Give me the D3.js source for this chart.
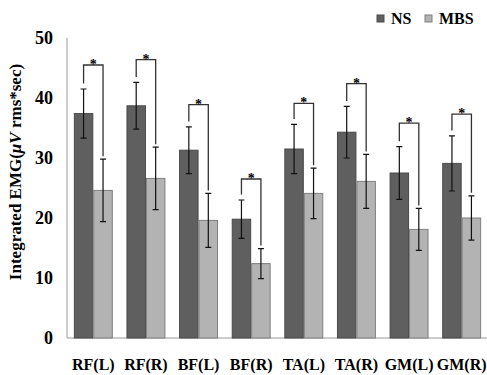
<!DOCTYPE html>
<html>
<head>
<meta charset="utf-8">
<script src="https://cdn.jsdelivr.net/npm/d3@7"></script>
<style>
  body { margin: 0; background: #fff; }
  text { font-family: "Liberation Serif", "Times New Roman", serif; font-weight: bold; fill: #000; }
</style>
</head>
<body>
<div id="chart"></div>
<script>
// data
const muscles = ["RF(L)", "RF(R)", "BF(L)", "BF(R)", "TA(L)", "TA(R)", "GM(L)", "GM(R)"];
const nsMean = [37.4, 38.7, 31.3, 19.8, 31.5, 34.3, 27.5, 29.1];
const nsSD = [4.1, 3.9, 3.9, 3.2, 4.1, 4.3, 4.4, 4.6];
const mbsMean = [24.6, 26.6, 19.6, 12.4, 24.1, 26.1, 18.1, 20.0];
const mbsSD = [5.2, 5.2, 4.5, 2.5, 4.2, 4.5, 3.5, 3.7];
const bracketTop = [45.5, 46.4, 38.9, 26.5, 39.1, 42.4, 35.8, 37.3];
const yTicks = [0, 10, 20, 30, 40, 50];
const seriesNames = ["NS", "MBS"];

const width = 487, height = 375;
const colors = { NS: "#5f5f5f", MBS: "#b3b3b3" };
const strokes = { NS: "#4a4a4a", MBS: "#7f7f7f" };

const svg = d3.select("#chart").append("svg")
  .attr("width", width).attr("height", height);

const x = d3.scaleBand().domain(muscles).range([67, 488]).paddingInner(0.26).paddingOuter(0.13);
const xs = d3.scaleBand().domain(seriesNames).range([0, x.bandwidth()]);
const y = d3.scaleLinear().domain([0, 50]).range([338, 38]);

// axes lines
svg.append("line").attr("x1", 67).attr("x2", 67).attr("y1", y(50)).attr("y2", y(0))
  .attr("stroke", "#999").attr("stroke-width", 1);
svg.append("line").attr("x1", 67).attr("x2", 487).attr("y1", y(0)).attr("y2", y(0))
  .attr("stroke", "#999").attr("stroke-width", 1);

// y tick labels
svg.selectAll(".ytick").data(yTicks).enter().append("text")
  .attr("x", 53).attr("y", d => y(d) + 6)
  .attr("text-anchor", "end").style("font-size", "18px").text(d => d);

// x labels
svg.selectAll(".xlab").data(muscles).enter().append("text")
  .attr("x", d => x(d) + x.bandwidth() / 2).attr("y", 370)
  .attr("text-anchor", "middle").style("font-size", "16px").text(d => d);

// y label
const yl = svg.append("text")
  .attr("transform", "translate(21,172) rotate(-90)")
  .attr("text-anchor", "middle").style("font-size", "17px");
yl.append("tspan").text("Integrated EMG(");
yl.append("tspan").style("font-style", "italic").text("μV");
yl.append("tspan").text(" rms*sec)");

const rows = muscles.map((m, i) => ({
  m, i,
  vals: [
    { s: "NS", v: nsMean[i], sd: nsSD[i] },
    { s: "MBS", v: mbsMean[i], sd: mbsSD[i] }
  ]
}));

const g = svg.selectAll(".grp").data(rows).enter().append("g")
  .attr("transform", d => `translate(${x(d.m)},0)`);

// bars
g.selectAll("rect").data(d => d.vals).enter().append("rect")
  .attr("x", d => xs(d.s) + 0.5).attr("width", xs.bandwidth() - 1)
  .attr("y", d => y(d.v)).attr("height", d => y(0) - y(d.v))
  .attr("fill", d => colors[d.s]).attr("stroke", d => strokes[d.s]).attr("stroke-width", 1);

// error bars
const cap = 3;
g.selectAll(".err").data(d => d.vals).enter().append("path")
  .attr("fill", "none").attr("stroke", "#111").attr("stroke-width", 1.2)
  .attr("d", d => {
    const cx = xs(d.s) + xs.bandwidth() / 2;
    const t = y(d.v + d.sd), b = y(d.v - d.sd);
    return `M${cx - cap},${t}H${cx + cap}M${cx},${t}V${b}M${cx - cap},${b}H${cx + cap}`;
  });

// significance brackets
g.append("path").attr("fill", "none").attr("stroke", "#333").attr("stroke-width", 1.3)
  .attr("d", d => {
    const c1 = xs("NS") + xs.bandwidth() / 2, c2 = xs("MBS") + xs.bandwidth() / 2;
    const top = y(bracketTop[d.i]);
    const l = y(nsMean[d.i] + nsSD[d.i] + 0.9), r = y(mbsMean[d.i] + mbsSD[d.i] + 0.5);
    return `M${c1},${l}V${top}H${c2}V${r}`;
  });
g.append("text")
  .attr("x", x.bandwidth() / 2).attr("y", d => y(bracketTop[d.i]) + 4)
  .attr("text-anchor", "middle").style("font-size", "14px").text("*");

// legend
const legend = [{ s: "NS", x: 377, tx: 391 }, { s: "MBS", x: 425, tx: 439 }];
svg.selectAll(".lsq").data(legend).enter().append("rect")
  .attr("x", d => d.x).attr("y", 15).attr("width", 7).attr("height", 7)
  .attr("fill", d => colors[d.s]).attr("stroke", d => strokes[d.s]);
svg.selectAll(".ltx").data(legend).enter().append("text")
  .attr("x", d => d.tx).attr("y", 24).style("font-size", "16px").text(d => d.s);
</script>
</body>
</html>
